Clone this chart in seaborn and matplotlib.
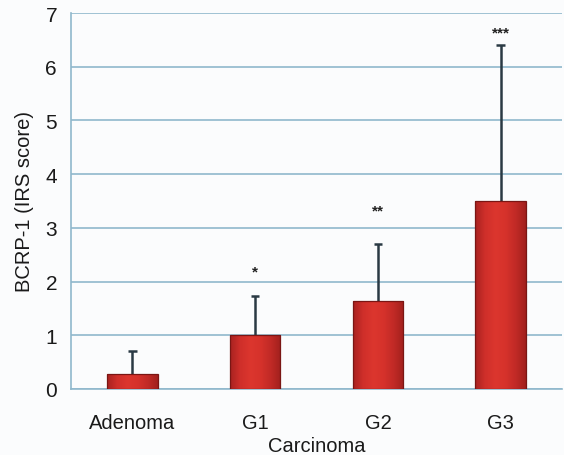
import numpy as np
import pandas as pd
import matplotlib
matplotlib.use("Agg")
import matplotlib.pyplot as plt
import seaborn as sns
from matplotlib.colors import LinearSegmentedColormap

categories = ["Adenoma", "G1", "G2", "G3"]
means = [0.28, 1.0, 1.64, 3.5]
err_upper = [0.43, 0.73, 1.06, 2.9]
stars = ["", "*", "**", "***"]
star_y = [None, 2.18, 3.33, 6.63]

sns.set_style("white")
plt.rcParams['font.family'] = ['Liberation Sans', 'DejaVu Sans']

df = pd.DataFrame({"group": categories, "score": means})

fig = plt.figure(figsize=(5.64, 4.56), dpi=100, facecolor="#fbfcfd")
ax = fig.add_axes([71/564, 1 - 390/456, (562-71)/564, (390-14)/456])
ax.set_facecolor("#fbfcfd")

sns.barplot(data=df, x="group", y="score", ax=ax, width=0.41,
            color="#c8282a", edgecolor="#7a1614", linewidth=0.9, zorder=3)

grid_c = "#8fb8cc"
ax.set_ylim(0, 7)
ax.set_xlim(-0.5, 3.5)
ax.set_yticks(range(0, 8))
ax.yaxis.grid(True, color=grid_c, linewidth=1.2, zorder=0)
ax.set_axisbelow(True)
for s in ["top", "right"]:
    ax.spines[s].set_visible(False)
ax.spines["left"].set_color(grid_c)
ax.spines["bottom"].set_color(grid_c)
ax.spines["left"].set_linewidth(1.2)
ax.spines["bottom"].set_linewidth(1.2)

# gradient fill for bars
cmap = LinearSegmentedColormap.from_list(
    "redgrad", ["#a82220", "#cf2f2a", "#dc362e", "#d6322b", "#c12a26", "#a1201d"])
grad = np.linspace(0, 1, 256).reshape(1, -1)
for p in ax.patches:
    x0, y0 = p.get_x(), p.get_y()
    w, h = p.get_width(), p.get_height()
    im = ax.imshow(grad, extent=[x0, x0 + w, y0, y0 + h], aspect="auto",
                   cmap=cmap, zorder=3.5, origin="lower")
    im.set_clip_path(p)
    p.set_facecolor("none")
    p.set_zorder(4)

# error bars (upper only, starting at bar top)
xs = np.array([p.get_x() + p.get_width() / 2 for p in ax.patches])
tops = np.array(means) + np.array(err_upper)
err_c = "#2a3a44"
ax.vlines(xs, means, tops, color=err_c, linewidth=1.8, zorder=3.8)
ax.hlines(tops, xs - 0.035, xs + 0.035, color=err_c, linewidth=1.8, zorder=3.8)

for x, s, yv in zip(xs, stars, star_y):
    if s:
        ax.text(x, yv, s, ha="center", va="center", fontsize=11,
                fontweight="bold", color="#222222", zorder=6)

# x ticks at category boundaries
ax.set_xticks(range(len(categories)))
ax.set_xticklabels(categories, fontsize=14.5, color="#1a1a1a")
ax.tick_params(axis="x", length=0, pad=17)
ax.set_xticks([-0.5, 0.5, 1.5, 2.5, 3.5], minor=True)
ax.tick_params(axis="x", which="minor", length=5, color=grid_c, width=1.2)
ax.tick_params(axis="y", length=4, color=grid_c, width=1.2, labelsize=15,
               labelcolor="#1a1a1a", pad=6)

ax.set_xlabel("Carcinoma", fontsize=14.5, color="#1a1a1a", labelpad=0)
ax.xaxis.set_label_coords(0.5, -0.125)
ax.set_ylabel("BCRP-1 (IRS score)", fontsize=14.5, color="#1a1a1a", labelpad=8)

fig.savefig("out.png", dpi=100, facecolor=fig.get_facecolor())
